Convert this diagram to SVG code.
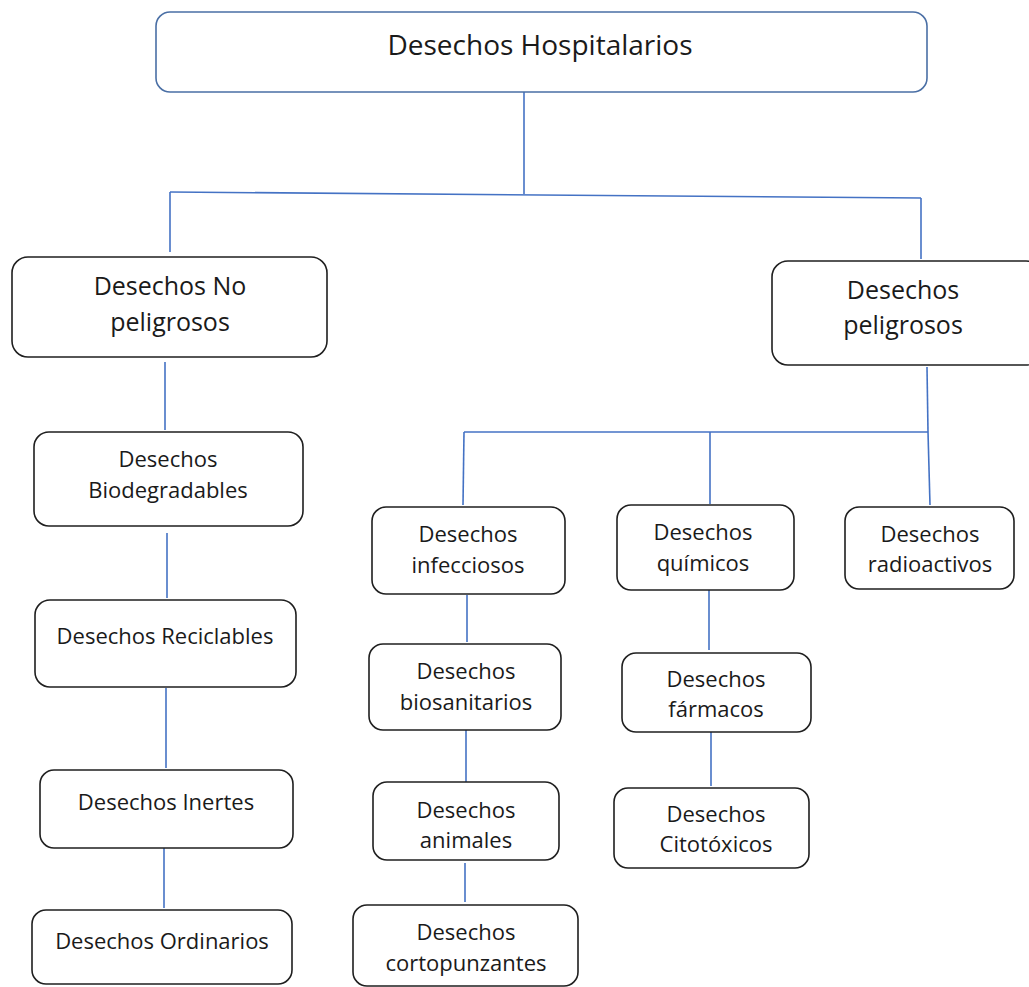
<svg xmlns="http://www.w3.org/2000/svg" width="1029" height="987" viewBox="0 0 1029 987">
<style>
.box{fill:#fff;stroke:#1f1f1f;stroke-width:1.6}
.top{fill:#fff;stroke:#4a6fa5;stroke-width:1.6}
.c{fill:none;stroke:#4472c4;stroke-width:1.6}
text{font-family:"Open Sans","Noto Sans",sans-serif;fill:#1a1a1a;text-anchor:middle}
.t1{font-size:28px}
.t2{font-size:25px}
.t3{font-size:22px}
</style>
<rect width="1029" height="987" fill="#fff"/>
<g id="connectors">
<path class="c" d="M524,92 V194"/>
<path class="c" d="M170,192 L921,198"/>
<path class="c" d="M170,192 V252"/>
<path class="c" d="M921,198 V259"/>
<path class="c" d="M165,362 V430"/>
<path class="c" d="M167,533 V598"/>
<path class="c" d="M166,688 V768"/>
<path class="c" d="M164,848 V908"/>
<path class="c" d="M927,367 L928,432"/>
<path class="c" d="M464,432 H928"/>
<path class="c" d="M464,432 L463,505"/>
<path class="c" d="M710,432 V504"/>
<path class="c" d="M928,432 L930,505"/>
<path class="c" d="M467,595 V642"/>
<path class="c" d="M466,727 V782"/>
<path class="c" d="M465,863 V902"/>
<path class="c" d="M709,590 V650"/>
<path class="c" d="M711,732 V786"/>
</g>
<g id="n-hospitalarios"><rect class="top" x="156" y="12" width="771" height="80" rx="14"/><text class="t1" x="540" y="55">Desechos Hospitalarios</text></g>
<g id="n-nopeligrosos"><rect class="box" x="12" y="257" width="315" height="100" rx="16"/><text class="t2" x="170" y="295">Desechos No</text><text class="t2" x="170" y="331">peligrosos</text></g>
<g id="n-peligrosos"><rect class="box" x="772" y="261" width="270" height="104" rx="16"/><text class="t2" x="903" y="299">Desechos</text><text class="t2" x="903" y="334">peligrosos</text></g>
<g id="n-biodegradables"><rect class="box" x="34" y="432" width="269" height="94" rx="15"/><text class="t3" x="168" y="467">Desechos</text><text class="t3" x="168" y="498">Biodegradables</text></g>
<g id="n-reciclables"><rect class="box" x="35" y="600" width="261" height="87" rx="15"/><text class="t3" x="165" y="644">Desechos Reciclables</text></g>
<g id="n-inertes"><rect class="box" x="40" y="770" width="253" height="78" rx="14"/><text class="t3" x="166" y="810">Desechos Inertes</text></g>
<g id="n-ordinarios"><rect class="box" x="32" y="910" width="260" height="74" rx="14"/><text class="t3" x="162" y="949">Desechos Ordinarios</text></g>
<g id="n-infecciosos"><rect class="box" x="372" y="507" width="193" height="87" rx="14"/><text class="t3" x="468" y="542">Desechos</text><text class="t3" x="468" y="573">infecciosos</text></g>
<g id="n-quimicos"><rect class="box" x="617" y="505" width="177" height="85" rx="14"/><text class="t3" x="703" y="540">Desechos</text><text class="t3" x="703" y="571">químicos</text></g>
<g id="n-radioactivos"><rect class="box" x="845" y="507" width="169" height="82" rx="14"/><text class="t3" x="930" y="542">Desechos</text><text class="t3" x="930" y="572">radioactivos</text></g>
<g id="n-biosanitarios"><rect class="box" x="369" y="644" width="192" height="86" rx="14"/><text class="t3" x="466" y="679">Desechos</text><text class="t3" x="466" y="710">biosanitarios</text></g>
<g id="n-animales"><rect class="box" x="373" y="782" width="186" height="78" rx="14"/><text class="t3" x="466" y="818">Desechos</text><text class="t3" x="466" y="848">animales</text></g>
<g id="n-cortopunzantes"><rect class="box" x="353" y="905" width="225" height="81" rx="14"/><text class="t3" x="466" y="940">Desechos</text><text class="t3" x="466" y="971">cortopunzantes</text></g>
<g id="n-farmacos"><rect class="box" x="622" y="653" width="189" height="79" rx="14"/><text class="t3" x="716" y="687">Desechos</text><text class="t3" x="716" y="717">fármacos</text></g>
<g id="n-citotoxicos"><rect class="box" x="614" y="788" width="195" height="80" rx="14"/><text class="t3" x="716" y="822">Desechos</text><text class="t3" x="716" y="852">Citotóxicos</text></g>
</svg>
